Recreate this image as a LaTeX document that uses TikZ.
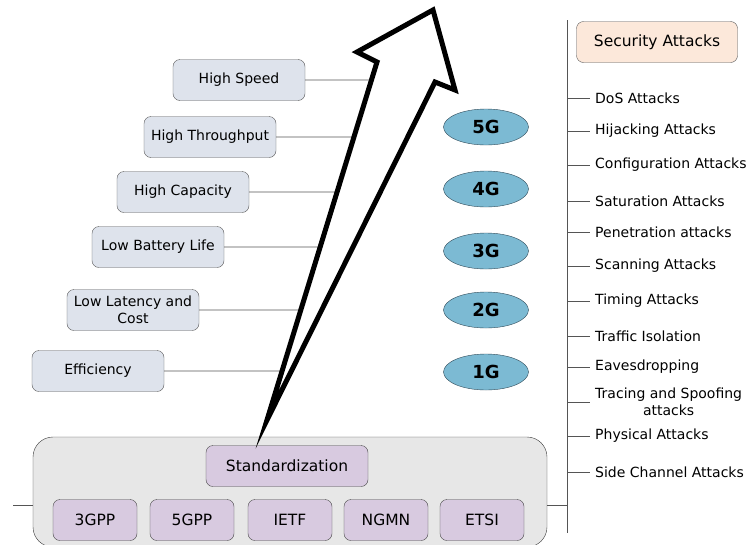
\documentclass[tikz,border=0pt]{standalone}
\usepackage{fontspec}
\setmainfont{DejaVu Sans}
\usetikzlibrary{shapes.geometric,calc}
\definecolor{featfill}{HTML}{DEE3EC}
\definecolor{genfill}{HTML}{7CBAD3}
\definecolor{genline}{HTML}{2F4A58}
\definecolor{stdback}{HTML}{E7E7E7}
\definecolor{stdfill}{HTML}{D8CAE0}
\definecolor{secfill}{HTML}{FCE8DA}
\definecolor{wire}{HTML}{555555}
\tikzset{
	feature/.style={draw=wire, fill=featfill, rounded corners=7pt, minimum width=132pt,
		minimum height=41pt, align=center, font=\fontsize{14}{17}\selectfont},
	gen/.style={ellipse, draw=genline, fill=genfill, minimum width=85pt, minimum height=36pt,
		inner sep=0pt, font=\fontsize{18}{20}\selectfont\bfseries},
	stdbox/.style={draw=wire!80!black, fill=stdfill, rounded corners=7pt, minimum height=41pt,
		font=\fontsize{15.5}{17}\selectfont},
	attack/.style={anchor=west, inner sep=5pt, align=center, font=\fontsize{14}{17}\selectfont},
	wireline/.style={draw=wire, line width=0.9pt}
}
\begin{document}
\begin{tikzpicture}[x=1pt,y=-1pt]
			\useasboundingbox (0,0) rectangle (752,544);
			% standardization block
			\node[draw=wire!70!black, fill=stdback, rounded corners=20pt, minimum width=514pt,
				minimum height=110pt] (std) at (290,492) {};
			\node[stdbox, minimum width=162pt] (stdz) at (287,466) {Standardization};
			\node[stdbox, minimum width=84pt] (gpp3) at (95,520) {3GPP};
			\node[stdbox, minimum width=84pt] (gpp5) at (192,520) {5GPP};
			\node[stdbox, minimum width=84pt] (ietf) at (290,520) {IETF};
			\node[stdbox, minimum width=84pt] (ngmn) at (386,520) {NGMN};
			\node[stdbox, minimum width=84pt] (etsi) at (482,520) {ETSI};
			% features
			\node[feature] (speed) at (239,80) {High Speed};
			\node[feature] (thru) at (210,137) {High Throughput};
			\node[feature] (capa) at (183,192) {High Capacity};
			\node[feature] (batt) at (158,247) {Low Battery Life};
			\node[feature] (late) at (133,310) {Low Latency and\\Cost};
			\node[feature] (effi) at (98,371) {Efficiency};
			% arrow outline
			\coordinate (tail) at (267,420);
			\coordinate (lnotch) at (377,62);
			\coordinate (lbarb) at (357,52);
			\coordinate (tip) at (433,10);
			\coordinate (rbarb) at (455,90);
			\coordinate (rnotch) at (435,82);
			\foreach \f in {speed,thru,capa,batt,late,effi}
				\draw[wireline] (\f.east) -- (intersection of lnotch--tail and \f.west--\f.east);
			\draw[line width=5pt, line join=miter, miter limit=20, fill=white]
				(tail) -- (lnotch) -- (lbarb) -- (tip) -- (rbarb) -- (rnotch) -- cycle;
			% generations
			\node[gen] (g5) at (486,127) {5G};
			\node[gen] (g4) at (486,189) {4G};
			\node[gen] (g3) at (486,251) {3G};
			\node[gen] (g2) at (486,310) {2G};
			\node[gen] (g1) at (486,372) {1G};
			% security attacks
			\coordinate (spine) at (567,20);
			\coordinate (spineend) at (567,533);
			\draw[wireline] (spine) -- (spineend);
			\node[draw=wire, fill=secfill, rounded corners=7pt, minimum width=161pt, minimum height=41pt,
				font=\fontsize{15.5}{17}\selectfont] (sec) at (657,42) {Security Attacks};
			\node[attack] (dos) at (590,98) {DoS Attacks};
			\node[attack] (hijk) at (590,131) {Hijacking Attacks};
			\node[attack] (conf) at (590,165) {Configuration Attacks};
			\node[attack] (satu) at (590,201) {Saturation Attacks};
			\node[attack] (pene) at (590,232) {Penetration attacks};
			\node[attack] (scan) at (590,266) {Scanning Attacks};
			\node[attack] (timi) at (590,301) {Timing Attacks};
			\node[attack] (traf) at (590,336) {Traffic Isolation};
			\node[attack] (eave) at (590,367) {Eavesdropping};
			\node[attack] (trac) at (590,402) {Tracing and Spoofing\\attacks};
			\node[attack] (phys) at (590,436) {Physical Attacks};
			\node[attack] (side) at (590,472) {Side Channel Attacks};
			\foreach \a in {dos,hijk,conf,satu,pene,scan,timi,traf,eave,trac,phys,side}
				\draw[wireline] (\a.west -| spine) -- (\a.west);
			% links to the standardization block
			\coordinate (lfree) at (13,505);
			\draw[wireline] (lfree) -- (lfree -| std.west);
			\draw[wireline] (lfree -| std.east) -- (lfree -| spine);
\end{tikzpicture}
\end{document}
